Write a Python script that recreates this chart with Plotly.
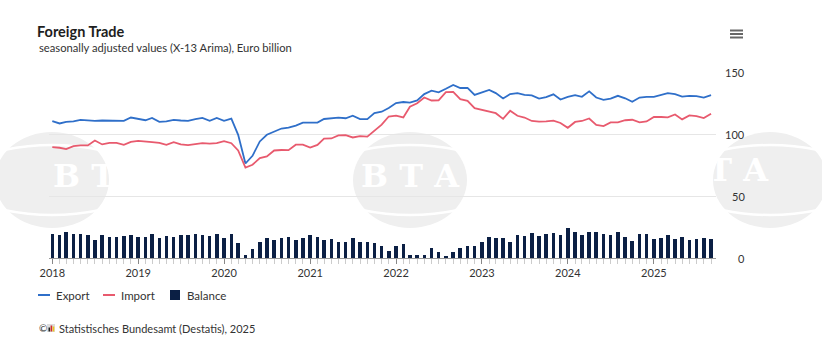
import plotly.graph_objects as go
import pandas as pd

# ---------------- data ----------------
months = pd.date_range("2018-01-01", "2025-09-01", freq="MS")

export_vals = [
    110.4, 108.5, 109.8, 110.1, 111.4, 110.9, 110.6, 110.9, 110.9, 110.6, 110.6, 113.3,
    112.0, 111.1, 113.0, 109.8, 110.1, 111.4, 110.9, 110.6, 112.0, 113.0, 110.6, 113.0,
    110.6, 112.4, 99.3, 76.2, 82.4, 94.0, 99.4, 102.0, 104.4, 105.1, 106.8, 109.1,
    109.2, 109.2, 112.1, 112.7, 113.2, 112.7, 114.8, 112.0, 112.0, 116.8, 118.0, 120.9,
    125.0, 125.8, 125.3, 127.1, 132.2, 135.0, 133.6, 136.5, 139.6, 137.1, 137.2, 131.5,
    133.8, 135.6, 133.0, 128.7, 132.2, 133.0, 131.5, 131.2, 128.6, 129.8, 132.0, 127.8,
    130.0, 131.3, 130.0, 134.4, 129.4, 127.5, 128.6, 130.8, 128.8, 126.0, 129.4, 130.0,
    130.0, 131.4, 132.9, 132.1, 130.2, 130.7, 130.6, 129.4, 131.3,
]
import_vals = [
    89.4, 88.9, 87.8, 90.2, 90.8, 90.8, 94.8, 91.6, 92.9, 92.9, 91.3, 93.7,
    94.5, 93.7, 93.4, 92.9, 91.3, 93.4, 91.6, 91.0, 92.1, 92.6, 92.3, 92.6,
    94.2, 92.6, 86.7, 73.0, 75.2, 80.5, 81.9, 86.7, 87.1, 87.0, 91.4, 91.4,
    89.0, 91.2, 96.3, 96.4, 98.9, 99.1, 97.2, 98.3, 97.9, 103.0, 107.6, 114.1,
    114.8, 113.4, 122.0, 124.8, 129.4, 127.0, 127.2, 133.7, 134.0, 128.1, 126.7, 120.9,
    119.5, 117.6, 116.8, 112.2, 118.7, 114.7, 113.3, 110.5, 110.0, 110.2, 110.8, 108.9,
    105.0, 109.7, 110.5, 112.5, 107.4, 106.4, 109.3, 109.3, 111.1, 111.5, 109.4, 110.1,
    113.8, 113.7, 113.4, 115.7, 111.8, 115.0, 114.5, 112.8, 116.4,
]
balance_vals = [
    19.7, 18.7, 21.1, 19.5, 19.5, 18.9, 14.9, 18.4, 17.3, 16.8, 17.9, 18.9,
    17.3, 17.3, 19.2, 16.5, 17.9, 17.3, 18.7, 18.7, 19.2, 18.9, 17.9, 19.5,
    16.0, 19.5, 12.2, 2.5, 7.1, 13.0, 16.5, 14.9, 16.5, 17.3, 14.9, 16.5,
    18.9, 16.8, 14.9, 15.7, 13.3, 12.8, 16.5, 12.8, 13.3, 12.2, 9.5, 5.8,
    9.5, 11.4, 2.6, 2.6, 2.6, 7.7, 5.0, 1.8, 5.0, 8.2, 9.5, 9.5,
    13.3, 17.0, 16.2, 16.0, 12.8, 18.4, 17.9, 20.3, 17.9, 19.2, 20.5, 18.4,
    24.3, 21.1, 18.7, 21.1, 21.1, 19.7, 18.7, 21.1, 17.0, 14.1, 19.2, 19.2,
    15.5, 16.5, 18.4, 15.5, 17.0, 14.6, 15.7, 16.0, 15.2,
]
year_ticks = ["2018-01-01", "2019-01-01", "2020-01-01", "2021-01-01",
              "2022-01-01", "2023-01-01", "2024-01-01", "2025-01-01"]
year_labels = ["2018", "2019", "2020", "2021", "2022", "2023", "2024", "2025"]
y_ticks = [0, 50, 100, 150]
series_names = ["Export", "Import", "Balance"]

# ---------------- styling ----------------
C_EXP = "#2f6fc9"
C_IMP = "#e85a6e"
C_BAL = "#0b1f44"
TXT = "#333333"
FONT = "Lato, 'Noto Sans', sans-serif"

W, H = 822, 362
L, R, T, B = 49, 716, 72, 258
def px(x):
    return (x - L) / (R - L)
def py(y):
    return 1 - (y - T) / (B - T)

fig = go.Figure()
fig.add_trace(go.Bar(x=months, y=balance_vals, name=series_names[2],
                     marker=dict(color=C_BAL, line=dict(width=0)),
                     width=15 * 86400000, showlegend=False))
fig.add_trace(go.Scatter(x=months, y=export_vals, name=series_names[0], mode="lines",
                         line=dict(color=C_EXP, width=1.8), showlegend=False))
fig.add_trace(go.Scatter(x=months, y=import_vals, name=series_names[1], mode="lines",
                         line=dict(color=C_IMP, width=1.8), showlegend=False))

shapes = []
annotations = []

# watermark (BTA)
for cx, ybot in [(52, 196), (410, 196), (770, 189.5)]:
    shapes.append(dict(type="circle", xref="paper", yref="paper", layer="below",
                       x0=px(cx - 57), x1=px(cx + 57), y0=py(228), y1=py(132),
                       fillcolor="#efefef", line=dict(width=0)))
    for (ya, yb) in [(150, 140), (210, 220)]:
        shapes.append(dict(type="path", xref="paper", yref="paper", layer="below",
                           path=f"M {px(cx-48)},{py(ya)} Q {px(cx)},{py(yb)} {px(cx+48)},{py(ya)}",
                           line=dict(color="white", width=2.5)))
    annotations.append(dict(x=px(cx), y=py(ybot), xref="paper", yref="paper",
                            text="<b>B T A</b>", showarrow=False, yanchor="bottom",
                            borderpad=0,
                            font=dict(family="DejaVu Serif", size=32, color="white")))

# y tick labels (right side, right aligned)
for v in y_ticks:
    annotations.append(dict(x=px(747), y=v, xref="paper", yref="y", text=str(v),
                            showarrow=False, xanchor="right", yanchor="middle",
                            font=dict(family=FONT, size=11, color=TXT)))

# subtitle
annotations.append(dict(x=px(37), y=py(47), xref="paper", yref="paper",
                        text="seasonally adjusted values (X-13 Arima), Euro billion",
                        showarrow=False, xanchor="left", yanchor="middle",
                        font=dict(family=FONT, size=11.2, color=TXT)))

# legend (custom)
leg_y = 295
shapes.append(dict(type="line", xref="paper", yref="paper", x0=px(38), x1=px(50),
                   y0=py(leg_y), y1=py(leg_y), line=dict(color=C_EXP, width=2)))
shapes.append(dict(type="line", xref="paper", yref="paper", x0=px(103), x1=px(115),
                   y0=py(leg_y), y1=py(leg_y), line=dict(color=C_IMP, width=2)))
shapes.append(dict(type="rect", xref="paper", yref="paper", x0=px(170), x1=px(180),
                   y0=py(leg_y + 5), y1=py(leg_y - 5), fillcolor=C_BAL, line=dict(width=0)))
for xt, name in zip([54, 119, 185], series_names):
    annotations.append(dict(x=px(xt), y=py(leg_y), xref="paper", yref="paper", text=name,
                            showarrow=False, xanchor="left", yanchor="middle",
                            font=dict(family=FONT, size=11.5, color=TXT)))

# source line
annotations.append(dict(x=px(37), y=py(328), xref="paper", yref="paper", text="©",
                        showarrow=False, xanchor="left", yanchor="middle",
                        font=dict(family=FONT, size=10, color=TXT)))
shapes.append(dict(type="rect", xref="paper", yref="paper", x0=px(47), x1=px(55),
                   y0=py(332), y1=py(324), fillcolor="#dddddd", line=dict(width=0)))
for (bx, bh, bc) in [(48.5, 4, "#222222"), (50.6, 6, "#d22b2b"), (52.7, 5, "#f0c419")]:
    shapes.append(dict(type="rect", xref="paper", yref="paper", x0=px(bx), x1=px(bx + 1.6),
                       y0=py(331.5), y1=py(331.5 - bh), fillcolor=bc, line=dict(width=0)))
annotations.append(dict(x=px(57), y=py(328), xref="paper", yref="paper",
                        text="Statistisches Bundesamt (Destatis), 2025",
                        showarrow=False, xanchor="left", yanchor="middle",
                        font=dict(family=FONT, size=11, color=TXT)))

# hamburger menu icon
for yy in [30.5, 34, 37.5]:
    shapes.append(dict(type="line", xref="paper", yref="paper", x0=px(730), x1=px(743),
                       y0=py(yy), y1=py(yy), line=dict(color="#666666", width=2)))

fig.update_layout(
    width=W, height=H,
    margin=dict(l=L, r=W - R, t=T, b=H - B),
    paper_bgcolor="white", plot_bgcolor="white",
    font=dict(family=FONT, size=11, color=TXT),
    title=dict(text="<b>Foreign Trade</b>", xref="container", yref="container",
               x=37 / W, y=1 - 32 / H, xanchor="left", yanchor="middle",
               font=dict(family=FONT, size=14.5, color="#1e1e1e")),
    showlegend=False,
    bargap=0,
    shapes=shapes,
    annotations=annotations,
    xaxis=dict(
        type="date",
        range=["2017-12-18", "2025-09-22"],
        tickvals=year_ticks, ticktext=year_labels,
        ticks="outside", ticklen=5, tickcolor="#888888", tickwidth=1,
        minor=dict(dtick="M1", tick0="2018-01-01", ticks="outside", ticklen=5,
                   tickcolor="#cccccc", tickwidth=1, showgrid=False),
        showgrid=False, showline=True, linecolor="#999999", linewidth=1,
        tickfont=dict(family=FONT, size=11, color=TXT),
        fixedrange=True,
    ),
    yaxis=dict(
        range=[0, 150], tickvals=y_ticks, showticklabels=False,
        showgrid=True, gridcolor="#e6e6e6", gridwidth=1,
        zeroline=False, side="right", fixedrange=True,
    ),
)

fig.write_html("out.html", config={"displayModeBar": False},
               post_script="document.body.style.margin='0';document.body.style.padding='0';")
